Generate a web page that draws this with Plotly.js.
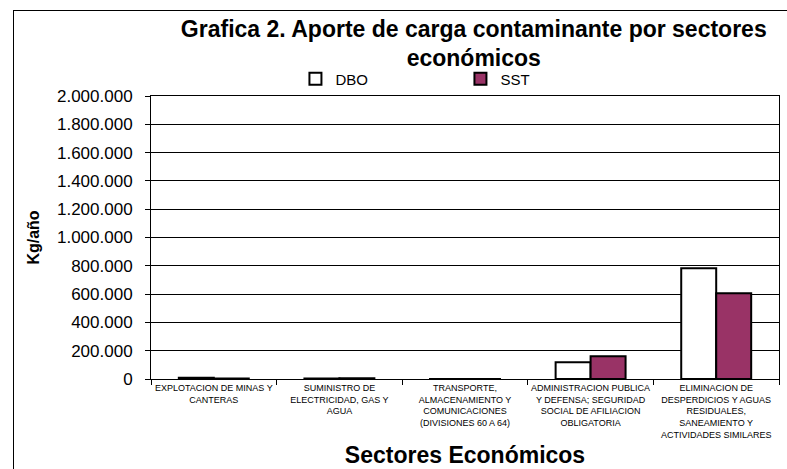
<!DOCTYPE html>
<html>
<head>
<meta charset="utf-8">
<script src="https://cdn.plot.ly/plotly-3.0.1.min.js"></script>
<style>
  html, body { margin: 0; padding: 0; background: #fff; }
  #wrap { position: relative; width: 787px; height: 469px; }
  #chart { width: 787px; height: 469px; }
  #frame { position: absolute; left: 13px; top: 10px; width: 800px; height: 500px;
           border-left: 1px solid #000; border-top: 1px solid #000; pointer-events: none; }
</style>
</head>
<body>
<div id="wrap">
  <div id="chart"></div>
  <div id="frame"></div>
</div>
<script>
// ---- data ----
const categories = ["MINAS", "ELECTRICIDAD", "TRANSPORTE", "ADMINISTRACION", "ELIMINACION"];
const tickLabels = [
  "EXPLOTACION DE MINAS Y<br>CANTERAS",
  "SUMINISTRO DE<br>ELECTRICIDAD, GAS Y<br>AGUA",
  "TRANSPORTE,<br>ALMACENAMIENTO Y<br>COMUNICACIONES<br>(DIVISIONES 60 A 64)",
  "ADMINISTRACION PUBLICA<br>Y DEFENSA; SEGURIDAD<br>SOCIAL DE AFILIACION<br>OBLIGATORIA",
  "ELIMINACION DE<br>DESPERDICIOS Y AGUAS<br>RESIDUALES,<br>SANEAMIENTO Y<br>ACTIVIDADES SIMILARES"
];
const dboValues = [9000, 4000, 500, 118000, 782000];
const sstValues = [4000, 4500, 300, 160000, 606000];
const yTicks = [0, 200000, 400000, 600000, 800000, 1000000, 1200000, 1400000, 1600000, 1800000, 2000000];

const FONT = "Arial, 'Liberation Sans', sans-serif";

const traces = [
  { type: "bar", name: "DBO", x: categories, y: dboValues,
    marker: { color: "#ffffff", line: { color: "#000000", width: 2 } } },
  { type: "bar", name: "SST", x: categories, y: sstValues,
    marker: { color: "#993366", line: { color: "#000000", width: 2 } } }
];

const layout = {
  width: 787, height: 469,
  margin: { l: 151, r: 8, t: 96, b: 90, pad: 0 },
  paper_bgcolor: "rgba(0,0,0,0)",
  plot_bgcolor: "#ffffff",
  separators: ",.",
  font: { family: FONT, color: "#000" },
  barmode: "group",
  bargap: 0.443,
  bargroupgap: 0,
  title: {
    text: "<b>Grafica 2. Aporte de carga contaminante por sectores<br>económicos</b>",
    font: { family: FONT, size: 23, color: "#000" },
    xref: "paper", x: 0.514, xanchor: "center",
    yref: "container", y: 0.922, yanchor: "top"
  },
  showlegend: true,
  legend: {
    orientation: "h",
    x: 0.230, xanchor: "left",
    y: 1.06, yanchor: "middle",
    font: { family: FONT, size: 15, color: "#000" },
    entrywidth: 120, entrywidthmode: "pixels",
    itemwidth: 30,
    bgcolor: "rgba(0,0,0,0)"
  },
  xaxis: {
    type: "category",
    tickmode: "array", tickvals: categories, ticktext: tickLabels,
    tickson: "boundaries",
    ticks: "outside", ticklen: 5, tickcolor: "#000",
    tickfont: { family: FONT, size: 9, color: "#000" },
    tickangle: 0,
    showline: true, linecolor: "#000", linewidth: 1, mirror: true,
    showgrid: false,
    automargin: false,
    title: { text: "<b>Sectores Económicos</b>", font: { family: FONT, size: 23, color: "#000" }, standoff: 8 }
  },
  yaxis: {
    range: [0, 2000000],
    tickmode: "array", tickvals: yTicks,
    tickformat: ",d",
    ticks: "outside", ticklen: 5, tickcolor: "#000",
    ticklabelstandoff: 9,
    tickfont: { family: FONT, size: 17, color: "#000" },
    showline: true, linecolor: "#000", linewidth: 1, mirror: true,
    showgrid: true, gridcolor: "#000", gridwidth: 1,
    zeroline: false,
    automargin: false,
    title: { text: "<b>Kg/año</b>", font: { family: FONT, size: 16, color: "#000" }, standoff: 13 }
  }
};

Plotly.newPlot("chart", traces, layout, { staticPlot: true, displayModeBar: false });
</script>
</body>
</html>
